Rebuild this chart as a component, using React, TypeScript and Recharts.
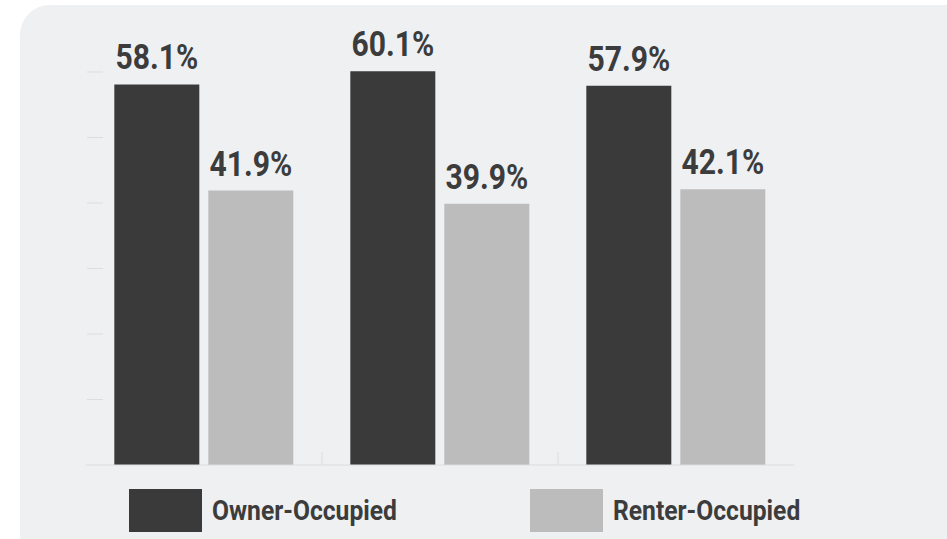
import React from "react";
import { BarChart, Bar, XAxis, YAxis, LabelList } from "recharts";

const categories = ["Group 1", "Group 2", "Group 3"];
const ownerValues = [58.1, 60.1, 57.9];
const renterValues = [41.9, 39.9, 42.1];
const yTicks = [0, 10, 20, 30, 40, 50, 60];
const seriesNames = ["Owner-Occupied", "Renter-Occupied"];
const seriesColors = ["#3a3a3a", "#bcbcbc"];

const data = categories.map((c, i) => ({
  name: c,
  owner: ownerValues[i],
  renter: renterValues[i],
}));

const FONT = "Roboto, 'Open Sans', sans-serif";
const W = 947;
const H = 539;
const M = { top: 6.5, right: 153, bottom: 73, left: 85 };
const BAND = (W - M.left - 1 - M.right) / categories.length;
const SQUEEZE = 0.86;

const BoundaryTick = (props: any) => {
  const { x, y, index } = props;
  if (index === 0) return <g />;
  const bx = x - BAND / 2;
  return <line x1={bx} x2={bx} y1={y} y2={y - 13} stroke="#dcdde0" strokeWidth={1} />;
};

const YTick = (props: any) => {
  const { x, y, payload } = props;
  if (payload.value === 0) return <g />;
  return <line x1={x + 1} x2={x + 17} y1={y} y2={y} stroke="#dcdde0" strokeWidth={1} />;
};

const fmt = (v: any) => `${Number(v).toFixed(1)}%`;

const ValueLabel = (props: any) => {
  const { x, y, width, value } = props;
  const cx = x + width / 2;
  const ty = y - 15;
  return (
    <text
      x={0}
      y={0}
      transform={`translate(${cx},${ty}) scale(${SQUEEZE},1)`}
      textAnchor="middle"
      style={{ fontFamily: FONT, fontWeight: 700, fontSize: 35, fill: "#3c3c3c" }}
    >
      {fmt(value)}
    </text>
  );
};

export default function App() {
  return (
    <div style={{ position: "absolute", left: 0, top: 0, width: W, height: H, background: "#ffffff", overflow: "hidden" }}>
      <div style={{ position: "absolute", left: 20, top: 5, width: 960, height: 600, background: "#eff0f2", borderRadius: 30 }} />
      <div style={{ position: "absolute", left: 0, top: 0 }}>
        <BarChart width={W} height={H} data={data} margin={M} barCategoryGap="12%" barGap={9}>
          <XAxis
            dataKey="name"
            height={1}
            axisLine={{ stroke: "#dcdde0" }}
            tickLine={false}
            tickSize={0}
            tickMargin={0}
            tick={<BoundaryTick />}
            interval={0}
          />
          <YAxis
            width={1}
            domain={[0, 70]}
            ticks={yTicks}
            axisLine={false}
            tickSize={0}
            tickMargin={0}
            tickLine={false}
            tick={<YTick />}
            interval={0}
          />
          <Bar dataKey="owner" name={seriesNames[0]} fill={seriesColors[0]} isAnimationActive={false}>
            <LabelList dataKey="owner" content={<ValueLabel />} />
          </Bar>
          <Bar dataKey="renter" name={seriesNames[1]} fill={seriesColors[1]} isAnimationActive={false}>
            <LabelList dataKey="renter" content={<ValueLabel />} />
          </Bar>
        </BarChart>
      </div>
      <div style={{ position: "absolute", left: 129, top: 489, display: "flex" }}>
        {seriesNames.map((n, i) => (
          <div key={n} style={{ width: 401, display: "flex", alignItems: "center" }}>
            <div style={{ width: 73, height: 43, background: seriesColors[i], flex: "none" }} />
            <span
              style={{
                marginLeft: 10,
                fontFamily: FONT,
                fontWeight: 700,
                fontSize: 28,
                color: "#3c3c3c",
                display: "inline-block",
                transform: "scaleX(0.88)",
                transformOrigin: "left center",
                whiteSpace: "nowrap",
              }}
            >
              {n}
            </span>
          </div>
        ))}
      </div>
    </div>
  );
}
